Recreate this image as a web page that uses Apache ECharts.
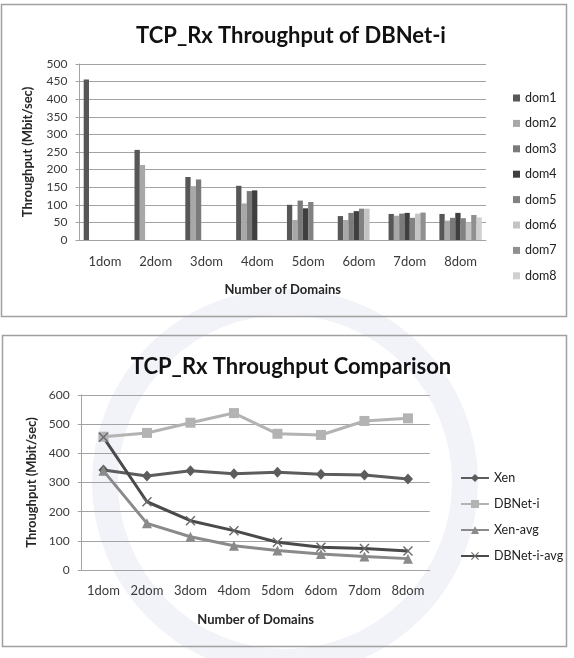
<!DOCTYPE html>
<html>
<head>
<meta charset="utf-8">
<script src="https://cdn.jsdelivr.net/npm/echarts@6/dist/echarts.min.js"></script>
<style>
html,body{margin:0;padding:0;background:#fff;}
#c{width:574px;height:658px;}
</style>
</head>
<body>
<div id="c"></div>
<script>
// ---- data: top chart (bars) ----
const categories = ['1dom','2dom','3dom','4dom','5dom','6dom','7dom','8dom'];
const barSeriesNames = ['dom1','dom2','dom3','dom4','dom5','dom6','dom7','dom8'];
const dom1 = [456, 256, 179, 154, 100, 68, 74, 74];
const dom2 = [null, 213, 153, 104, 57, 57, 69, 55];
const dom3 = [null, null, 172, 139, 112, 77, 75, 63];
const dom4 = [null, null, null, 141, 90, 82, 77, 77];
const dom5 = [null, null, null, null, 108, 89, 63, 62];
const dom6 = [null, null, null, null, null, 89, 75, 50];
const dom7 = [null, null, null, null, null, null, 78, 71];
const dom8 = [null, null, null, null, null, null, null, 64];
const barYTicks = [0,50,100,150,200,250,300,350,400,450,500];

// ---- data: bottom chart (lines) ----
const lineSeriesNames = ['Xen','DBNet-i','Xen-avg','DBNet-i-avg'];
const xen = [343, 322, 340, 330, 335, 328, 326, 312];
const dbneti = [457, 470, 505, 538, 467, 463, 511, 520];
const xenAvg = [340, 160, 114, 83, 67, 55, 46, 39];
const dbnetiAvg = [455, 234, 169, 135, 95, 78, 74, 65];
const lineYTicks = [0,100,200,300,400,500,600];

const FONT = 'Lato, "Open Sans", sans-serif';
const barData = [dom1,dom2,dom3,dom4,dom5,dom6,dom7,dom8];
const barColors = ['#575757','#a8a8a8','#7a7a7a','#3f3f3f','#828282','#c4c4c4','#909090','#d0d0d0'];
const gridColor = '#a3a3a3';

const xCross = 'path://M1,0 L5,4 L9,0 L10,1 L6,5 L10,9 L9,10 L5,6 L1,10 L0,9 L4,5 L0,1 Z';

const chart = echarts.init(document.getElementById('c'), null, {renderer:'canvas'});

const yLabelStyle = {color:'#3a3a3a', fontFamily:FONT, fontSize:12};
const xLabelStyle = {color:'#3a3a3a', fontFamily:FONT, fontSize:13};
const nameStyle = {fontFamily:FONT, fontSize:13, fontWeight:'bold', color:'#262626'};

const option = {
  animation:false,
  textStyle:{fontFamily:FONT},
  title:[
    {text:'TCP_Rx Throughput of DBNet-i', left:286, top:20, textAlign:'center',
     textStyle:{fontFamily:FONT, fontSize:22, fontWeight:'bold', color:'#111'}},
    {text:'TCP_Rx Throughput Comparison', left:286, top:351, textAlign:'center',
     textStyle:{fontFamily:FONT, fontSize:22, fontWeight:'bold', color:'#111'}}
  ],
  graphic:[
    {type:'circle', shape:{cx:285, cy:482, r:180}, style:{fill:'none', stroke:'#f2f3f9', lineWidth:26}, z:-3, silent:true},
    {type:'rect', shape:{x:1.5,y:4.5,width:565,height:312}, style:{fill:'none', stroke:'#a0a0a0', lineWidth:1.5}, z:-1},
    {type:'rect', shape:{x:2.5,y:335.5,width:564,height:311}, style:{fill:'none', stroke:'#a0a0a0', lineWidth:1.5}, z:-1}
  ],
  legend:[
    {orient:'vertical', left:508, top:86, itemWidth:7, itemHeight:7, itemGap:11.4, icon:'rect',
     textStyle:{fontFamily:FONT, fontSize:12.5, color:'#222', lineHeight:14},
     data:barSeriesNames},
    {orient:'vertical', left:455, top:466, itemWidth:28, itemHeight:10, itemGap:12,
     textStyle:{fontFamily:FONT, fontSize:12.5, color:'#222', lineHeight:14},
     data:lineSeriesNames}
  ],
  grid:[
    {left:79.5, top:64, width:406.5, height:176},
    {left:81.7, top:395, width:348, height:175}
  ],
  xAxis:[
    {type:'category', gridIndex:0, data:categories,
     axisLine:{lineStyle:{color:gridColor}}, axisTick:{length:4, lineStyle:{color:gridColor}},
     axisLabel:Object.assign({margin:15}, xLabelStyle),
     name:'Number of Domains', nameLocation:'middle', nameGap:43, nameTextStyle:nameStyle},
    {type:'category', gridIndex:1, data:categories,
     axisLine:{lineStyle:{color:gridColor}}, axisTick:{length:4, lineStyle:{color:gridColor}},
     axisLabel:Object.assign({margin:14}, xLabelStyle),
     name:'Number of Domains', nameLocation:'middle', nameGap:43, nameTextStyle:nameStyle}
  ],
  yAxis:[
    {type:'value', gridIndex:0, min:barYTicks[0], max:barYTicks[barYTicks.length-1], interval:barYTicks[1]-barYTicks[0],
     axisLine:{show:true, lineStyle:{color:gridColor}}, axisTick:{show:true, length:4, lineStyle:{color:gridColor}},
     splitLine:{lineStyle:{color:gridColor, width:1}},
     axisLabel:Object.assign({margin:12}, yLabelStyle),
     name:'Throughput (Mbit/sec)', nameLocation:'middle', nameGap:45, nameTextStyle:nameStyle},
    {type:'value', gridIndex:1, min:lineYTicks[0], max:lineYTicks[lineYTicks.length-1], interval:lineYTicks[1]-lineYTicks[0],
     axisLine:{show:true, lineStyle:{color:gridColor}}, axisTick:{show:true, length:4, lineStyle:{color:gridColor}},
     splitLine:{lineStyle:{color:gridColor, width:1}},
     axisLabel:Object.assign({margin:12}, yLabelStyle),
     name:'Throughput (Mbit/sec)', nameLocation:'middle', nameGap:43, nameTextStyle:nameStyle}
  ],
  series:[]
};

barSeriesNames.forEach((n,i)=>{
  option.series.push({
    type:'bar', name:n, xAxisIndex:0, yAxisIndex:0, data:barData[i],
    barGap:'0%', barCategoryGap:'16.5%',
    itemStyle:{color:barColors[i]}
  });
});

const lineDefs = [
  {data:xen, color:'#5c5c5c', symbol:'diamond', size:[10,11]},
  {data:dbneti, color:'#b3b3b3', symbol:'rect', size:10},
  {data:xenAvg, color:'#8a8a8a', symbol:'triangle', size:10},
  {data:dbnetiAvg, color:'#4a4a4a', symbol:xCross, size:10}
];
lineDefs.forEach((d,i)=>{
  option.series.push({
    type:'line', name:lineSeriesNames[i], xAxisIndex:1, yAxisIndex:1, data:d.data,
    symbol:d.symbol, symbolSize:d.size, showSymbol:true,
    lineStyle:{color:d.color, width:3},
    itemStyle:{color: i===3 ? '#6a6a6a' : d.color}
  });
});

chart.setOption(option);
</script>
</body>
</html>
